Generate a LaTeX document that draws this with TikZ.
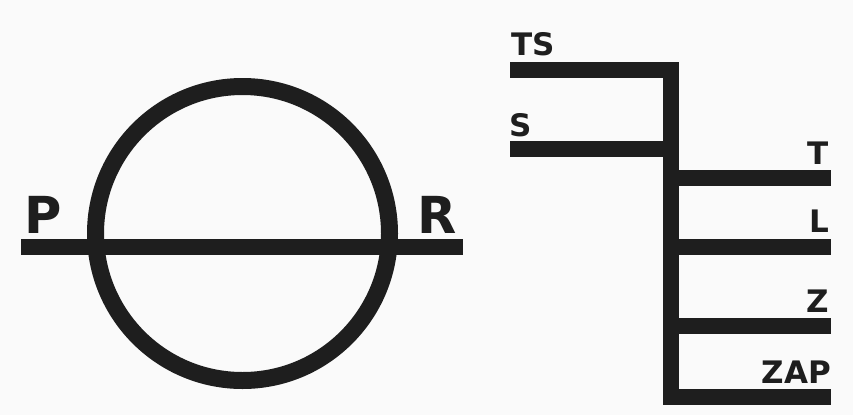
\documentclass[tikz,border=0pt]{standalone}
\usepackage{fontspec}
\setmainfont{DejaVu Sans}
\usepackage{tikz}
\usetikzlibrary{calc}

\definecolor{pipecolor}{RGB}{30,30,30}
\definecolor{papercolor}{RGB}{250,250,250}

\begin{document}
\begin{tikzpicture}[x=1pt, y=-1pt,
  pipe/.style={pipecolor, line width=16pt, line cap=butt, line join=miter},
  biglabel/.style={inner sep=0pt, text=pipecolor, font=\bfseries\fontsize{51}{51}\selectfont},
  smalllabel/.style={inner sep=0pt, text=pipecolor, font=\bfseries\fontsize{31}{31}\selectfont}]
% Paper
\fill[papercolor] (0,0) rectangle (853,415);
\useasboundingbox (0,0) rectangle (853,415);

% Define the parameters of the ring
\pgfmathsetmacro{\cx}{242.5}
\pgfmathsetmacro{\cy}{233.5}
\pgfmathsetmacro{\rad}{147}
\pgfmathsetmacro{\barY}{247}

% Draw ring and bar
\draw[pipe, line width=17pt] (\cx,\cy) circle[radius=\rad];
\draw[pipe] (21,\barY) -- (463,\barY);
\node[biglabel, anchor=base west] (P) at (24,233) {P};
\node[biglabel, anchor=base west] (R) at (417,233) {R};

% Draw the branch
\pgfmathsetmacro{\trunkX}{670.5}
\pgfmathsetmacro{\endX}{831}
\draw[pipe] (510,69.5) -| (\trunkX,397) -- (\endX,397);
\draw[pipe] (510,148.5) -- (\trunkX,148.5);
\foreach \yy in {178,246.5,326}
  \draw[pipe] (\trunkX,\yy) -- (\endX,\yy);

% Labels
\node[smalllabel, anchor=base west] (TS) at (511,55) {TS};
\node[smalllabel, anchor=base west] (S) at (509,136) {S};
\node[smalllabel, anchor=base east] (T) at (829,164) {T};
\node[smalllabel, anchor=base east] (L) at (829,232) {L};
\node[smalllabel, anchor=base east] (Z) at (829,312) {Z};
\node[smalllabel, anchor=base east] (ZAP) at (831,383) {ZAP};
\end{tikzpicture}
\end{document}
